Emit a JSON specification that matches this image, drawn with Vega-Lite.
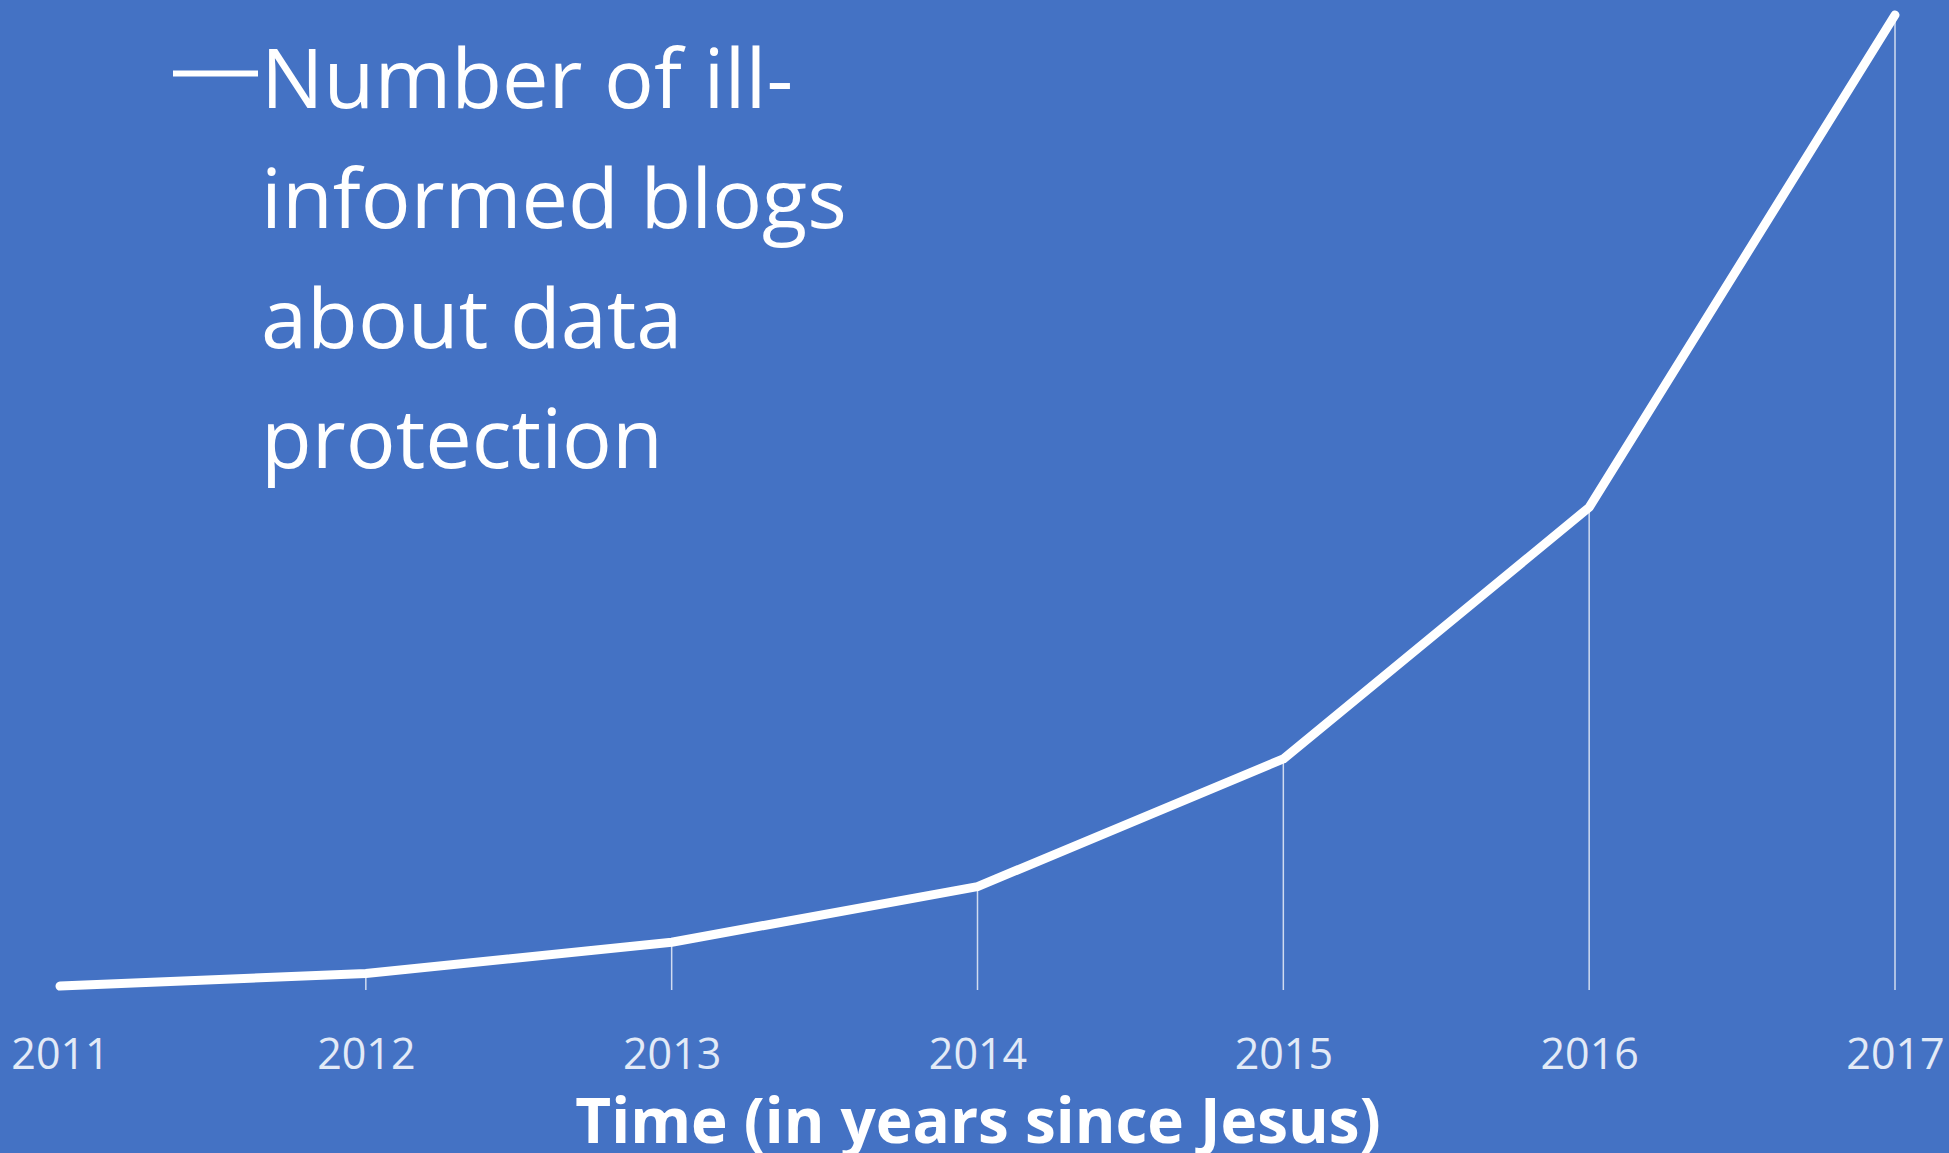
{
  "$schema": "https://vega.github.io/schema/vega-lite/v6.json",
  "width": 1835,
  "height": 975,
  "autosize": {"type": "none"},
  "padding": {"left": 60, "top": 15, "right": 54, "bottom": 163},
  "background": "#4472C4",
  "config": {"view": {"stroke": null}, "font": "Open Sans"},
  "data": {
    "values": [
      {"year": 2011, "blogs": 0.4, "series": "Number of ill-informed blogs about data protection"},
      {"year": 2012, "blogs": 1.7, "series": "Number of ill-informed blogs about data protection"},
      {"year": 2013, "blogs": 4.9, "series": "Number of ill-informed blogs about data protection"},
      {"year": 2014, "blogs": 10.6, "series": "Number of ill-informed blogs about data protection"},
      {"year": 2015, "blogs": 23.7, "series": "Number of ill-informed blogs about data protection"},
      {"year": 2016, "blogs": 49.5, "series": "Number of ill-informed blogs about data protection"},
      {"year": 2017, "blogs": 100, "series": "Number of ill-informed blogs about data protection"}
    ]
  },
  "encoding": {
    "x": {
      "field": "year", "type": "quantitative",
      "scale": {"domain": [2011, 2017], "nice": false, "zero": false},
      "axis": {
        "values": [2011, 2012, 2013, 2014, 2015, 2016, 2017],
        "format": "d",
        "domain": false, "ticks": false, "tickSize": 0, "grid": false,
        "labelFlush": false,
        "labelFont": "Open Sans", "labelFontSize": 43, "labelPadding": 44, "labelColor": "#e2eaf7",
        "title": "Time (in years since Jesus)",
        "titleFont": "Open Sans", "titleFontSize": 62, "titleFontWeight": "bold", "titleColor": "#ffffff", "titlePadding": 16
      }
    },
    "y": {"field": "blogs", "type": "quantitative", "axis": null, "scale": {"domain": [0, 100], "nice": false}}
  },
  "layer": [
    {
      "mark": {"type": "rule", "color": "#ffffff", "strokeWidth": 1.5, "opacity": 0.75},
      "encoding": {
        "y2": {"datum": 0}
      }
    },
    {
      "mark": {"type": "line", "strokeWidth": 9, "strokeCap": "round", "strokeJoin": "round"},
      "encoding": {
        "color": {
          "field": "series", "type": "nominal",
          "scale": {"range": ["#ffffff"]},
          "legend": {
            "orient": "none", "legendX": 110, "legendY": 13, "title": null,
            "symbolType": "stroke", "symbolSize": 7225, "symbolStrokeWidth": 6, "symbolStrokeColor": "#ffffff",
            "labelFont": "Open Sans", "labelFontSize": 83, "labelColor": "#ffffff", "labelLimit": 1500, "labelOffset": 0,
            "labelBaseline": "top",
            "labelExpr": "['Number of ill-','informed blogs','about data','protection']",
            "encode": {"labels": {"update": {"lineHeight": {"value": 120}, "dy": {"value": -32}}}}
          }
        }
      }
    }
  ]
}
